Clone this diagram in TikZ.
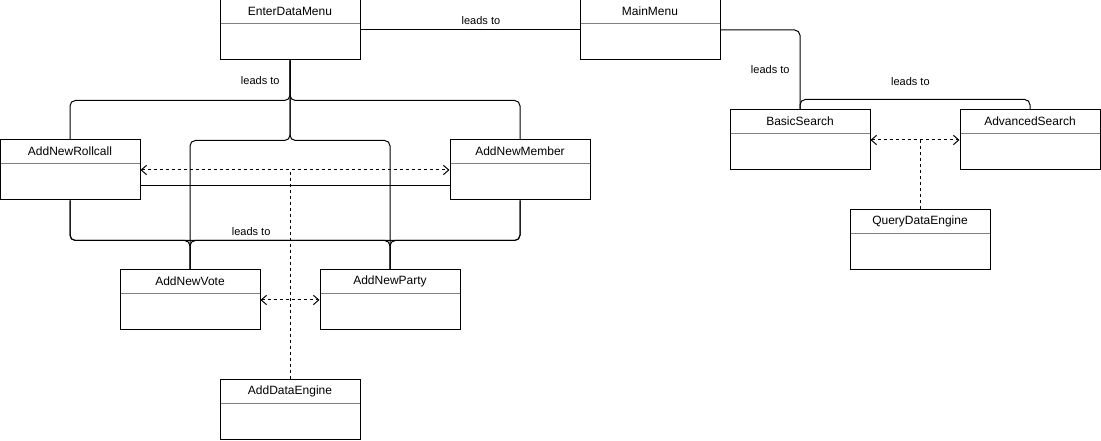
\documentclass[tikz,border=0pt]{standalone}
\usepackage{fontspec}
\setmainfont{Liberation Sans}
\usetikzlibrary{arrows.meta, positioning}

\begin{document}
\begin{tikzpicture}[x=0.75pt, y=-0.75pt, line width=0.75pt, >={Straight Barb[length=4pt, width=7pt]},
    umlclass/.style={rectangle, draw, fill=white, inner sep=0pt, minimum width=105pt, minimum height=45pt,
        path picture={\draw[gray] ([yshift=-18pt]path picture bounding box.north west) -- ([yshift=-18pt]path picture bounding box.north east);},
        label={[anchor=center, yshift=-9pt, font=\fontsize{9}{11}\selectfont]north:#1}},
    leads/.style={rounded corners=4pt},
    uses/.style={dash pattern=on 2.25pt off 2.25pt},
    tag/.style={font=\fontsize{8.25}{10}\selectfont, inner sep=0pt}]

        \useasboundingbox (0,0) rectangle (1101,441);

        % data entry side
        \node[umlclass=EnterDataMenu] (edm) at (290,30) {};
        \node[umlclass=AddNewRollcall] (anr) at (70,170) {};
        \node[umlclass=AddNewMember] (anm) at (520,170) {};
        \node[umlclass=AddNewVote] (anv) at (190,300) {};
        \node[umlclass=AddNewParty] (anp) at (390,300) {};
        \node[umlclass=AddDataEngine] (ade) at (290,410) {};

        % search side
        \node[umlclass=MainMenu] (mm) at (650,30) {};
        \node[umlclass=BasicSearch] (bs) at (800,140) {};
        \node[umlclass=AdvancedSearch] (as) at (1030,140) {};
        \node[umlclass=QueryDataEngine] (qde) at (920,240) {};

        \draw (edm) -- node[tag, pos=0.55, above=3.75pt] {leads to} (mm);

        \draw[leads] (edm.south) -- node[tag, left=7.5pt] {leads to} ++(0,40) -| (anr.north);
        \draw[leads] (edm.south) -- ++(0,40) -| (anm.north);
        \draw[leads] (edm.south) -- ++(0,80) -| (anv.north);
        \draw[leads] (edm.south) -- ++(0,80) -| (anp.north);

        \draw[leads] (anr.south) -- ++(0,40) -| (anv.north);
        \draw[leads] (anr.south) -- ++(0,40) -- node[tag, pos=0.566, above=3pt] {leads to} ++(320,0) -- (anp.north);
        \draw[leads] (anm.south) -- ++(0,40) -| (anv.north);
        \draw[leads] (anm.south) -- ++(0,40) -| (anp.north);

        \draw ([yshift=-11.75pt]anr.east) -- ([yshift=-11.75pt]anm.west);
        \draw[uses, <->] (anr.east) -- (anm.west);
        \draw[uses] (ade.north) -- (ade.north |- anr.east);
        \draw[uses, <->] (anv.east) -- (anp.west);

        \draw[leads] (mm.east) -| node[tag, pos=0.75, left=7.5pt] {leads to} (bs.north);
        \draw[leads] (bs.north) -- ++(0,-10) -| node[tag, pos=0.24, above=10pt] {leads to} (as.north);

        \draw[uses, <->] (bs.east) -- (as.west);
        \draw[uses] (qde.north) -- (qde.north |- bs.east);

    \end{tikzpicture}
\end{document}
